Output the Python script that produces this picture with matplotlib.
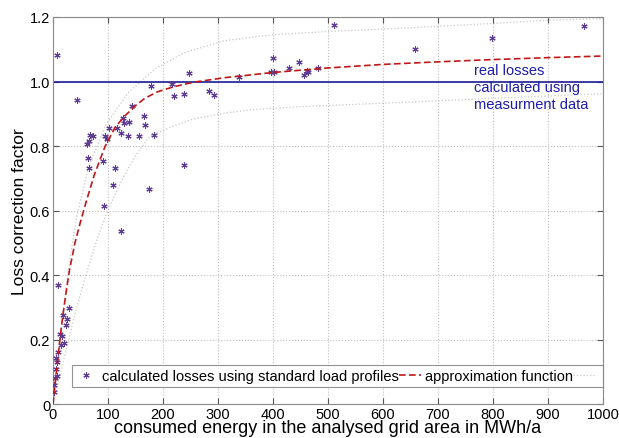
import numpy as np
import matplotlib
matplotlib.use("Agg")
import matplotlib.pyplot as plt

plt.rcParams["font.family"] = ["Liberation Sans", "DejaVu Sans"]

# measured points: consumed energy (MWh/a) vs loss correction factor
energy = [7.8, 43, 62, 65, 68, 72, 64, 65, 91, 95, 99, 102, 112, 108.5, 93,
          117, 123, 128, 130, 138, 136, 144, 157, 166, 168, 174, 183, 179,
          216, 220, 239, 247, 238, 123,
          8.5, 30, 19, 25, 23, 13, 16, 20, 14, 10, 5.5, 7, 5.5, 7, 3.6, 2.4, 2.4,
          511, 400.6, 448, 428.5, 482, 396, 402, 461, 464, 457, 339, 284, 293,
          657.6, 797.6, 965.5]
factor = [1.083, 0.944, 0.807, 0.816, 0.834, 0.830, 0.762, 0.731, 0.754, 0.832,
          0.822, 0.855, 0.732, 0.680, 0.614, 0.855, 0.839, 0.887, 0.870, 0.875,
          0.832, 0.925, 0.832, 0.894, 0.866, 0.667, 0.834, 0.987,
          0.991, 0.956, 0.962, 1.026, 0.740, 0.538,
          0.369, 0.298, 0.276, 0.264, 0.245, 0.217, 0.212, 0.189, 0.183, 0.162,
          0.142, 0.129, 0.109, 0.088, 0.080, 0.036, 0.059,
          1.176, 1.074, 1.062, 1.043, 1.041, 1.031, 1.028, 1.033, 1.031, 1.020,
          1.013, 0.972, 0.959,
          1.101, 1.134, 1.173]

# approximation function
fit_x = [0, 5, 10, 15, 20, 25, 30, 40, 50, 60, 75, 95, 113, 131, 150, 167,
         190, 216, 240, 264, 313, 400, 500, 600, 700, 800, 900, 1000]
fit_y = [0.0, 0.08, 0.16, 0.235, 0.30, 0.36, 0.415, 0.50, 0.565, 0.625, 0.71,
         0.80, 0.858, 0.894, 0.925, 0.948, 0.968, 0.982, 0.992, 1.0, 1.012,
         1.028, 1.042, 1.053, 1.061, 1.068, 1.074, 1.079]

# dotted bounds around the approximation
upper_x = [0, 4, 10, 20, 30, 43, 64, 95, 137, 185, 240, 313, 400, 500, 631,
           800, 898, 1000]
upper_y = [0.0, 0.06, 0.16, 0.31, 0.44, 0.58, 0.73, 0.863, 0.966, 1.039, 1.09,
           1.127, 1.145, 1.155, 1.165, 1.18, 1.19, 1.195]
lower_x = [0, 10, 20, 40, 60, 80, 95, 110, 130, 150, 176, 216, 258, 313, 358,
           450, 631, 800, 1000]
lower_y = [0.0, 0.07, 0.14, 0.28, 0.40, 0.51, 0.58, 0.64, 0.71, 0.77, 0.83,
           0.86, 0.885, 0.902, 0.912, 0.922, 0.935, 0.948, 0.962]

real_level = 1.0
xticks = list(range(0, 1001, 100))
yticks = [0, 0.2, 0.4, 0.6, 0.8, 1.0, 1.2]
ytick_labels = ["0", "0.2", "0.4", "0.6", "0.8", "1.0", "1.2"]

fig = plt.figure(figsize=(6.19, 4.39), dpi=100)
ax = fig.add_axes([0.0856, 0.0774, 0.8885, 0.8816])

ax.axhline(real_level, color="#1c1c96", lw=1.2, zorder=2)
b_up, = ax.plot(upper_x, upper_y, ls=":", color="#c8c8c8", lw=0.9, zorder=1)
ax.plot(lower_x, lower_y, ls=":", color="#c8c8c8", lw=0.9, zorder=1)
pts, = ax.plot(energy, factor, ls="none", marker=(6, 2, 0), ms=4.5, mew=0.8,
               color="#5e3e92", zorder=3)
fit, = ax.plot(fit_x, fit_y, ls="--", color="#c01818", lw=1.2, zorder=4,
               dashes=(4, 2))

ax.text(765, 0.983, "real losses\ncalculated using\nmeasurment data",
        color="#1c1caa", fontsize=10.5, va="center", ha="left", linespacing=1.25)

ax.set_xlim(0, 1000)
ax.set_ylim(0, 1.2)
ax.set_xticks(xticks)
ax.set_yticks(yticks)
ax.set_yticklabels(ytick_labels)
ax.tick_params(direction="in", top=True, right=True, labelsize=10.5,
               length=4, color="#555555", pad=2)
ax.grid(True, ls=":", color="#bdbdbd", lw=0.8)
for s in ax.spines.values():
    s.set_color("#8a8a8a")

ax.set_xlabel("consumed energy in the analysed grid area in MWh/a",
              fontsize=13, labelpad=-1)
ax.set_ylabel("Loss correction factor", fontsize=12.5, labelpad=2)

leg = ax.legend([pts, fit, b_up],
                ["calculated losses using standard load profiles",
                 "approximation function", ""],
                ncol=3, fontsize=10.5, loc="lower left",
                bbox_to_anchor=(0.034, 0.045, 0.966, 0.05), mode="expand",
                frameon=True, fancybox=False, edgecolor="#777777",
                handlelength=1.5, handletextpad=0.3, columnspacing=0.3,
                borderpad=0.25, borderaxespad=0)
leg.get_frame().set_linewidth(0.8)

fig.savefig("out.png", dpi=100)
